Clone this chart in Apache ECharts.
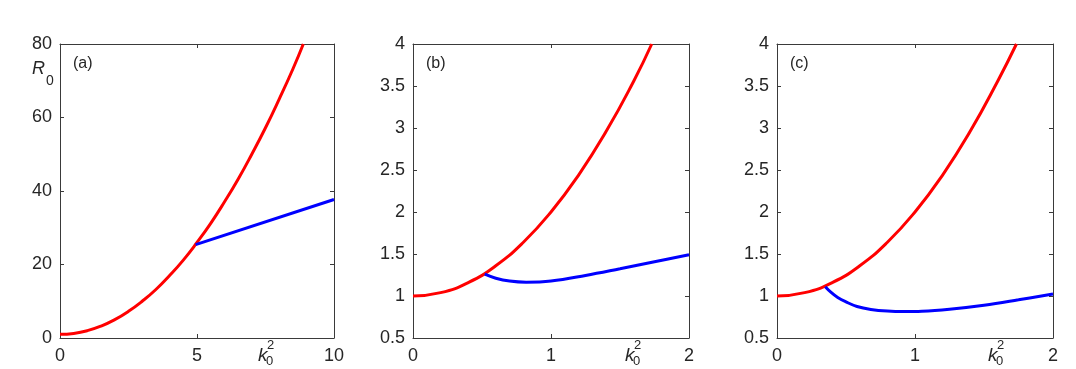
<!DOCTYPE html>
<html>
<head>
<meta charset="utf-8">
<script src="https://cdn.jsdelivr.net/npm/echarts@6/dist/echarts.min.js"></script>
<style>
  html, body { margin: 0; padding: 0; background: #fff; }
  #chart { width: 1076px; height: 369px; }
</style>
</head>
<body>
<div id="chart"></div>
<script>
// values, [k0^2, R0]
const redA = [[0, 1], [0.5, 1.25], [1, 2], [1.5, 3.25], [2, 5], [2.5, 7.25], [3, 10], [3.5, 13.2], [4, 17], [4.5, 21.2],
  [5, 26], [5.5, 31.2], [6, 37], [6.5, 43.2], [7, 50], [7.5, 57.2], [8, 65], [8.5, 73.2], [8.88, 80]];
const blueA = [[4.95, 25.4], [10, 37.7]];

const redB = [[0, 1], [0.2, 1.04], [0.4, 1.16], [0.6, 1.36], [0.8, 1.64], [1, 2], [1.2, 2.44], [1.4, 2.96], [1.6, 3.56], [1.73, 4]];
const blueB = [[0.52, 1.26], [0.6, 1.212], [0.7, 1.178], [0.82, 1.164], [1, 1.178], [1.25, 1.245], [1.5, 1.325], [1.75, 1.408], [2, 1.49]];

const redC = [[0, 1], [0.2, 1.04], [0.4, 1.16], [0.6, 1.36], [0.8, 1.64], [1, 2], [1.2, 2.44], [1.4, 2.96], [1.6, 3.56], [1.735, 4]];
const blueC = [[0.35, 1.11], [0.39, 1.045], [0.44, 0.982], [0.5, 0.93], [0.58, 0.875], [0.68, 0.84], [0.8, 0.82], [0.92, 0.814], [1.05, 0.818], [1.25, 0.843], [1.5, 0.891], [1.75, 0.955], [2, 1.024]];

const panelLabels = ['(a)', '(b)', '(c)'];
const xRanges = [[0, 10, 5], [0, 2, 1], [0, 2, 1]];
const yRanges = [[0, 80, 20], [0.5, 4, 0.5], [0.5, 4, 0.5]];

const FONT = '"Liberation Sans", Arial, Helvetica, sans-serif';
const INK = '#262626';
const AXIS = '#3a3a3a';

const grids = [
  { left: 60, top: 44, width: 274, height: 294 },
  { left: 413, top: 44, width: 276, height: 294 },
  { left: 777, top: 44, width: 276, height: 294 }
];

const xAxis = [];
const yAxis = [];
grids.forEach((g, i) => {
  const [xmin, xmax, xint] = xRanges[i];
  const [ymin, ymax, yint] = yRanges[i];
  const common = {
    type: 'value',
    gridIndex: i,
    splitLine: { show: false },
    axisLine: { show: true, onZero: false, lineStyle: { color: AXIS, width: 1 } },
    axisTick: { show: true, inside: true, length: 4, lineStyle: { color: AXIS } }
  };
  xAxis.push(Object.assign({}, common, {
    position: 'bottom', min: xmin, max: xmax, interval: xint,
    axisLabel: { color: INK, fontSize: 18, fontFamily: FONT, margin: 9 }
  }));
  xAxis.push(Object.assign({}, common, {
    position: 'top', min: xmin, max: xmax, interval: xint,
    axisLabel: { show: false }
  }));
  yAxis.push(Object.assign({}, common, {
    position: 'left', min: ymin, max: ymax, interval: yint,
    axisLabel: { color: INK, fontSize: 18, fontFamily: FONT, margin: 8 }
  }));
  yAxis.push(Object.assign({}, common, {
    position: 'right', min: ymin, max: ymax, interval: yint,
    axisLabel: { show: false }
  }));
});

function line(data, color, i, smooth) {
  return {
    type: 'line',
    xAxisIndex: i * 2,
    yAxisIndex: i * 2,
    data: data,
    smooth: smooth,
    showSymbol: false,
    silent: true,
    lineStyle: { color: color, width: 3 },
    itemStyle: { color: color }
  };
}

const series = [
  line(redA, '#ff0000', 0, true), line(blueA, '#0000ff', 0, false),
  line(redB, '#ff0000', 1, true), line(blueB, '#0000ff', 1, 0.4),
  line(redC, '#ff0000', 2, true), line(blueC, '#0000ff', 2, 0.4)
];

const graphic = [];
panelLabels.forEach((t, i) => {
  graphic.push({
    type: 'text', left: grids[i].left + 13, top: 56,
    style: { text: t, font: '16px ' + FONT, fill: INK }
  });
});
// R_0 on panel (a)
graphic.push({ type: 'text', left: 32, top: 60, style: { text: 'R', font: 'italic 18px ' + FONT, fill: INK } });
graphic.push({ type: 'text', left: 46, top: 74, style: { text: '0', font: '14px ' + FONT, fill: INK } });
// k_0^2 labels
const kx = [258, 625, 988];
kx.forEach(x => {
  graphic.push({ type: 'text', left: x, top: 346, style: { text: 'k', font: 'italic 19px ' + FONT, fill: INK } });
  graphic.push({ type: 'text', left: x + 9, top: 339, style: { text: '2', font: '13px ' + FONT, fill: INK } });
  graphic.push({ type: 'text', left: x + 8, top: 355, style: { text: '0', font: '13px ' + FONT, fill: INK } });
});

const chart = echarts.init(document.getElementById('chart'), null, { renderer: 'canvas' });
chart.setOption({
  animation: false,
  backgroundColor: '#ffffff',
  grid: grids,
  xAxis: xAxis,
  yAxis: yAxis,
  series: series,
  graphic: graphic
});
</script>
</body>
</html>
